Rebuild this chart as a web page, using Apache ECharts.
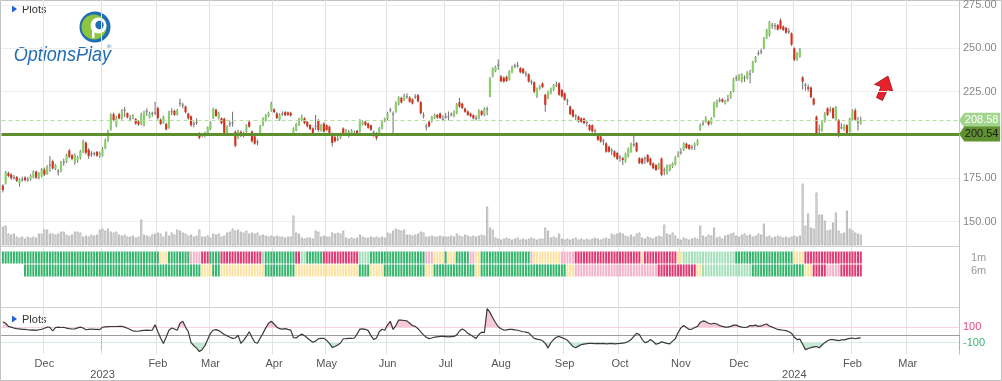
<!DOCTYPE html>
<html><head><meta charset="utf-8">
<script src="https://cdn.jsdelivr.net/npm/echarts@6.0.0/dist/echarts.min.js"></script>
<style>html,body{margin:0;padding:0;background:#fff}#c{width:1002px;height:381px}</style>
</head><body><div id="c"></div>
<script>
// ---------------- data ----------------
const firstDay = [2022, 10, 9];          // 2022-11-09 (month 0-based)
const categoryCount = 346;               // trading days shown on the axis (data + future)
const holidays = ['2022-11-24','2022-12-26','2023-01-02','2023-01-16','2023-02-20','2023-04-07','2023-05-29','2023-06-19','2023-07-04','2023-09-04','2023-11-23','2023-12-25','2024-01-01','2024-01-15','2024-02-19','2024-03-29'];
const monthNames = ['Jan','Feb','Mar','Apr','May','Jun','Jul','Aug','Sep','Oct','Nov','Dec'];
const priceTicks = { min: 150, max: 275, step: 25 };
const supportLevel = 200.54;
const lastPrice = 208.58;
const oscLevels = [100, -100];

// [open, close, low, high]
const candles = [
[170.8,168.3,166.9,171.6],[172.1,178.5,171.5,179.3],[178.0,176.4,175.6,178.9],[177.2,175.2,174.1,178.0],[175.4,175.8,174.3,176.9],
[175.8,173.6,172.9,176.4],[172.0,174.4,170.2,175.0],[174.2,174.6,173.0,176.0],[175.4,174.0,173.2,176.3],[174.1,174.5,173.1,175.8],
[174.4,176.6,173.6,177.4],[175.8,178.7,175.0,179.6],[178.9,175.4,174.6,179.5],[175.2,177.9,174.4,178.6],[176.2,180.3,175.6,181.0],
[180.1,177.2,176.3,181.2],[177.5,181.8,177.0,182.6],[182.5,183.0,178.8,187.8],[184.9,180.7,180.0,185.8],[180.5,182.6,179.8,183.2],
[178.8,179.3,176.6,180.4],[179.2,184.2,178.5,185.1],[184.3,184.6,182.2,186.4],[184.5,188.4,183.8,189.2],[191.0,187.4,186.6,192.0],
[188.3,186.2,185.5,189.0],[183.9,188.6,182.8,189.4],[185.4,187.2,184.0,188.0],[186.8,190.6,185.9,191.4],[190.4,196.4,189.5,197.3],
[195.6,189.8,188.8,196.3],[191.4,187.8,186.3,192.5],[188.6,189.4,187.4,190.6],[189.6,189.1,187.9,190.4],[190.3,188.1,187.4,190.8],
[188.4,189.6,186.8,190.5],[188.0,192.0,187.5,193.0],[192.2,197.0,191.8,198.0],[197.0,202.0,196.0,203.0],[203.0,211.5,202.5,212.5],
[212.0,208.6,207.8,213.0],[205.5,210.0,204.5,211.0],[212.0,209.6,209.0,212.8],[209.4,214.0,208.8,215.0],[214.0,214.6,210.4,216.2],
[212.6,210.2,209.6,213.0],[209.4,209.8,207.8,211.5],[209.6,211.5,209.0,212.0],[209.2,206.6,205.8,209.8],[207.8,206.1,205.3,208.6],
[206.2,211.8,205.6,213.0],[205.8,213.0,204.8,214.0],[214.0,213.2,211.0,215.4],[210.0,212.6,209.6,213.4],[212.2,212.8,210.6,213.5],
[212.6,213.2,211.5,219.2],[215.5,209.8,208.8,216.4],[208.8,206.4,205.8,209.6],[207.0,210.6,206.5,211.2],[206.4,203.2,202.6,207.0],
[204.2,213.0,203.6,214.0],[213.2,213.8,211.4,215.4],[214.0,211.6,211.0,214.6],[211.8,214.4,211.2,215.0],[218.0,218.6,216.4,221.0],
[217.6,217.2,215.4,218.6],[216.4,213.2,212.4,217.0],[212.4,209.6,208.8,212.8],[210.8,205.6,204.8,211.2],[206.4,206.8,204.4,207.8],
[207.6,207.2,205.8,209.6],[201.0,198.4,197.6,201.6],[199.8,200.4,198.8,201.0],[199.6,201.4,198.6,202.0],[201.0,204.6,200.4,205.0],
[203.4,207.2,202.8,208.0],[209.8,215.0,209.2,215.8],[214.6,211.0,210.4,215.2],[209.6,212.8,209.0,213.4],[209.6,206.8,206.2,210.2],
[209.4,201.2,200.4,210.0],[201.0,204.8,199.6,205.6],[206.0,206.6,204.6,208.4],[207.0,207.4,204.8,213.4],[201.8,193.8,193.0,202.6],
[198.4,202.4,197.6,203.0],[201.8,199.6,198.8,202.6],[199.4,201.2,198.6,202.0],[201.8,205.6,201.0,206.2],[207.6,204.8,204.2,208.2],
[202.0,196.4,195.6,202.6],[199.2,195.0,194.4,199.8],[196.2,195.8,194.0,197.4],[201.0,205.2,200.4,205.8],[205.6,209.6,205.0,210.2],
[208.4,211.4,207.8,212.0],[210.8,212.6,210.2,213.4],[214.0,218.2,213.4,219.2],[214.8,213.2,212.6,215.4],[212.4,209.8,209.2,213.2],
[208.8,211.8,208.2,212.6],[212.2,212.6,211.0,213.6],[213.2,211.4,210.8,213.8],[213.0,211.6,211.0,213.6],[212.8,211.2,210.6,213.4],
[200.2,203.6,199.8,204.4],[202.8,206.4,202.2,207.0],[205.8,209.4,205.2,210.0],[208.6,210.6,208.0,211.8],[209.6,206.8,206.2,210.2],
[207.6,205.0,204.4,208.2],[205.8,203.4,202.8,206.4],[203.8,201.2,200.6,204.4],[205.0,205.4,203.0,211.6],[208.6,202.8,202.0,209.2],
[202.6,205.8,202.0,206.4],[206.6,202.0,201.4,207.4],[205.6,203.0,202.4,206.2],[204.8,201.2,200.6,205.4],[200.8,195.4,193.4,201.4],
[198.8,196.4,195.6,199.6],[197.2,197.8,196.6,200.2],[198.2,200.8,197.6,201.4],[203.8,201.2,200.6,204.4],[200.0,202.6,199.4,203.4],
[201.0,201.4,198.6,203.0],[200.2,202.8,199.6,203.4],[200.4,200.8,199.4,202.6],[202.4,200.6,200.0,203.0],[202.0,208.6,201.4,209.2],
[206.2,207.6,205.6,208.4],[207.6,205.8,205.2,208.2],[206.6,204.2,203.6,207.2],[205.6,203.0,202.4,206.0],[201.8,201.2,199.0,202.6],
[201.0,198.2,197.0,201.6],[201.0,204.0,200.4,204.6],[203.8,207.6,203.2,208.2],[208.0,209.4,207.4,210.0],[209.2,212.6,208.6,213.4],
[214.0,214.6,213.0,215.8],[212.4,211.6,200.8,213.6],[213.4,218.8,212.8,219.4],[217.6,221.8,217.0,222.4],[221.4,218.8,218.2,222.0],
[220.2,223.0,219.6,223.8],[222.2,222.6,220.8,224.0],[221.6,219.2,218.6,222.4],[220.6,218.2,217.6,221.2],[221.8,222.4,220.8,223.6],
[223.0,219.4,218.8,223.6],[219.0,212.6,211.8,219.6],[211.6,211.0,209.6,213.0],[204.4,205.2,202.6,206.6],[207.6,205.0,204.4,208.2],
[207.8,210.4,207.2,211.0],[209.8,211.6,209.2,212.4],[211.6,210.0,209.4,212.2],[212.4,209.8,209.2,213.0],[209.4,209.0,208.0,211.4],
[210.2,210.8,209.4,212.6],[210.8,210.4,208.4,213.6],[211.6,212.2,210.8,213.0],[210.8,213.4,210.2,214.2],[212.6,217.8,212.0,218.4],
[219.0,216.4,215.8,221.4],[218.0,215.6,215.0,218.6],[215.2,213.4,212.8,215.8],[213.6,211.6,211.0,214.2],[212.4,210.8,210.2,213.0],
[211.4,209.6,209.0,212.0],[210.0,209.6,208.4,211.4],[209.6,214.2,209.0,214.8],[213.8,211.6,211.0,214.4],[211.4,215.4,210.8,216.0],
[214.6,215.2,211.4,216.4],[222.2,232.6,221.8,233.4],[233.8,238.4,233.2,239.0],[236.8,239.4,236.2,240.0],[240.0,240.6,237.6,243.6],
[233.8,231.0,230.4,234.6],[233.0,230.8,230.2,233.8],[233.6,231.2,230.6,234.2],[232.0,236.8,231.4,237.4],[236.2,239.2,235.6,240.0],
[239.6,240.2,238.4,241.2],[240.4,240.0,238.8,242.2],[238.6,236.2,235.6,239.2],[238.2,235.8,235.2,238.8],[235.8,235.2,233.6,236.8],
[235.0,230.8,230.2,235.6],[231.0,230.6,229.0,232.0],[230.4,225.0,224.0,231.0],[222.0,226.8,221.4,227.4],[226.6,228.0,226.0,228.8],
[229.8,227.6,227.0,230.4],[223.2,217.4,213.4,223.8],[221.2,225.0,220.6,225.6],[224.0,226.8,223.4,227.4],[226.0,228.8,225.4,229.4],
[228.4,229.0,227.6,230.8],[229.8,223.2,222.6,230.4],[226.0,222.2,221.6,226.6],[224.0,220.4,219.8,224.6],[220.2,219.6,217.2,221.0],
[216.4,212.0,211.4,217.0],[214.4,210.6,210.0,215.0],[211.4,210.8,208.6,212.0],[210.6,207.8,207.2,211.2],[209.6,207.6,207.0,210.2],
[209.4,206.8,206.2,210.0],[207.6,207.0,204.8,208.4],[205.8,202.8,202.2,206.4],[205.6,202.0,201.4,206.2],[202.8,202.2,199.4,203.6],
[200.0,197.2,196.6,200.6],[199.2,196.2,195.6,199.8],[197.0,196.4,194.2,197.8],[195.2,190.4,189.8,195.8],[193.2,190.4,189.8,193.8],
[191.4,190.6,188.4,192.4],[190.6,187.6,187.0,191.2],[189.6,186.2,185.6,190.2],[187.6,186.8,184.6,188.4],[186.6,185.6,182.6,187.4],
[184.6,189.2,184.0,189.8],[187.6,192.2,187.0,192.8],[190.4,195.0,189.8,195.6],[194.2,194.8,193.2,200.2],[195.4,190.6,190.0,196.0],
[186.6,183.8,183.2,187.2],[186.4,183.6,183.0,187.0],[186.8,186.2,183.4,187.6],[188.4,184.6,184.0,189.0],[186.4,182.8,182.2,187.0],
[183.6,180.8,180.2,184.2],[182.6,179.8,179.2,183.2],[180.6,183.4,180.0,184.0],[186.4,177.0,176.2,187.0],[180.0,179.4,176.8,181.2],
[177.8,182.4,177.2,183.0],[179.6,182.6,179.0,183.2],[181.6,183.6,181.0,184.2],[183.0,187.2,182.4,187.8],[187.6,188.8,187.0,190.6],
[189.6,190.4,188.6,192.4],[191.4,195.2,190.8,195.8],[195.0,192.6,192.0,195.6],[194.2,192.0,191.4,194.8],[192.6,193.2,191.4,194.4],
[193.6,194.6,191.4,195.6],[194.4,197.0,193.8,197.6],[203.0,206.0,202.4,206.6],[206.2,206.8,205.4,208.6],[207.6,209.8,207.0,210.8],
[207.8,206.0,205.4,208.4],[206.6,209.6,206.0,210.2],[210.6,218.4,210.0,219.2],[216.4,219.8,215.8,220.4],[219.6,220.4,218.8,221.6],
[220.6,219.2,218.6,221.2],[218.2,219.8,217.6,220.4],[220.0,220.8,219.0,223.2],[221.4,224.8,220.8,225.4],[225.2,232.4,224.6,233.0],
[232.4,233.2,231.0,234.4],[231.8,234.2,231.2,235.2],[230.8,235.0,230.2,235.6],[233.4,233.0,230.6,234.4],[232.6,236.0,232.0,236.8],
[235.0,235.6,229.8,237.6],[236.4,242.2,235.8,242.8],[242.2,245.0,241.6,245.6],[246.8,247.4,245.8,248.8],[247.8,248.4,246.6,249.8],
[250.0,256.0,249.4,256.6],[256.0,260.6,255.4,261.2],[257.6,265.2,256.8,265.8],[262.8,263.6,261.2,264.8],[263.4,262.8,260.8,264.6],
[263.4,260.8,260.2,264.0],[266.2,261.4,260.8,267.2],[262.6,260.6,260.0,263.2],[261.8,259.0,258.4,262.4],[259.4,260.0,258.2,261.6],
[258.6,252.2,251.4,259.2],[250.0,243.4,242.6,250.6],[243.6,247.2,242.8,247.8],[245.2,249.6,244.6,250.2],[233.2,230.8,226.2,234.0],
[229.0,228.2,225.6,230.0],[227.6,226.6,225.0,229.2],[227.4,221.8,221.2,228.0],[221.0,217.6,217.0,221.6],[210.6,200.4,199.4,211.2],
[203.6,203.0,201.2,206.0],[202.4,207.6,201.8,208.2],[207.8,212.6,207.2,213.2],[215.4,211.6,211.0,216.0],[214.0,214.6,213.0,216.4],
[215.4,209.8,209.2,216.0],[208.8,216.2,208.2,216.8],[208.6,199.4,198.8,209.2],[204.0,204.6,203.2,206.8],[203.0,205.6,202.4,206.2],
[205.6,200.2,199.6,206.2],[202.0,209.4,201.4,210.0],[208.8,214.2,208.2,214.8],[214.2,208.8,208.2,215.4],[207.0,207.6,202.6,210.4],
[206.6,208.6,206.0,210.6]
];

const volumes = [
19,20,12,11,12,9,8,9,7,9,8,9,8,12,
12,16,16,12,12,11,12,14,14,11,10,11,14,14,13,9,10,9,11,10,11,
16,17,15,17,14,13,14,11,10,11,9,9,10,8,9,26,11,10,9,11,
12,13,12,9,14,10,13,11,16,15,13,12,10,11,9,10,16,9,9,10,8,
12,11,12,9,10,13,14,17,15,16,14,13,15,12,13,12,13,10,11,10,9,10,
9,10,9,9,8,9,9,30,13,12,8,7,8,8,7,15,14,9,10,9,9,
13,12,13,12,15,8,7,8,7,8,11,9,8,8,9,8,9,8,9,8,
13,12,15,17,16,15,16,11,11,10,11,12,14,13,9,9,10,9,9,10,9,
9,9,10,9,12,10,9,11,10,9,10,9,10,11,10,39,18,16,8,7,6,7,8,
7,6,7,8,6,7,6,7,8,7,6,7,7,18,15,8,9,8,12,
7,6,7,6,7,8,6,7,6,7,6,7,8,7,6,7,8,7,12,11,12,13,12,
10,9,11,9,12,13,8,7,9,8,7,9,10,9,21,12,11,13,10,
7,6,8,7,6,7,8,7,20,10,9,11,10,18,8,9,7,10,11,12,13,
10,9,11,12,10,11,9,10,12,11,22,9,10,8,9,10,9,8,9,8,
9,10,9,10,62,20,32,18,17,53,31,31,25,15,16,23,33,15,12,13,35,17,15,13,12,11
];

const cci = [
170,150,110,100,88,80,78,72,70,66,62,64,58,66,
72,85,100,98,50,95,100,95,98,88,80,76,78,90,100,88,66,72,76,72,70,
68,98,104,106,108,108,108,110,111,100,86,70,50,48,47,55,58,60,58,62,
130,40,-40,-110,-30,60,88,75,60,150,175,100,40,-100,-140,-170,-215,-190,-140,
-60,20,60,68,55,30,5,-10,-30,-45,-40,-5,-110,-70,-20,40,-30,-95,-108,-40,20,90,150,
175,140,100,80,75,80,70,62,-35,-40,-10,10,-10,-40,-70,-95,-80,-50,-45,
-45,-70,-110,-160,-150,-130,-105,-50,-48,-45,-45,-40,10,75,78,72,55,-10,-60,-40,40,72,
60,130,175,70,120,190,190,185,180,150,120,110,80,40,0,-30,-48,-40,-30,-25,-20,
-20,-22,-25,-22,-20,0,50,77,55,20,0,-25,-45,5,35,30,340,290,220,160,
105,80,62,65,70,72,65,60,50,40,35,25,-10,-45,-55,-60,-75,-110,-170,-100,-60,-30,-20,
-35,-50,-70,-110,-150,-165,-145,-125,-118,-112,-110,-110,-112,-110,-112,-110,-115,-112,-110,-115,
-112,-110,-105,-100,-85,-60,-20,20,5,-60,-100,-90,-60,-85,-120,-110,-90,-100,-110,-115,-80,-50,
30,90,120,95,70,75,95,110,160,180,170,150,140,150,140,120,110,100,100,110,125,
125,110,100,95,100,120,115,125,110,115,130,140,115,100,85,70,65,60,55,40,
20,-30,-60,-55,-120,-190,-175,-165,-155,-150,-165,-130,-100,-75,-60,-62,-68,-75,-65,-65,-55,-45,-40,-50,-42,-38
];

// strip runs: [state, number of days]; G strong up, g up, Y neutral, p down, P strong down, - none
const strip1mRuns = [['G',57],['Y',3],['G',8],['p',4],['P',3],['G',4],['P',15],['g',1],['G',11],['P',2],['g',2],['G',6],['P',13],['g',4],['G',20],['p',3],['Y',4],['G',1],['Y',3],['G',5],['p',2],['Y',2],['G',18],['p',1],['Y',10],['p',5],['P',24],['Y',1],['P',12],['Y',2],['g',19],['G',21],['Y',4],['P',21]];
const strip6mRuns = [['-',8],['G',64],['Y',4],['G',3],['Y',16],['G',11],['Y',23],['G',4],['Y',5],['G',15],['Y',3],['G',15],['Y',2],['G',31],['Y',3],['p',30],['P',14],['Y',2],['g',18],['G',19],['Y',3],['P',5],['p',5],['P',8]];
const stripRows = ['6m', '1m'];

// ---------------- build ----------------
const stateColors = { G: '#33b36b', g: '#a4dfba', Y: '#fde3a2', p: '#f6b2c8', P: '#e03872' };
const stateKeys = ['G','g','Y','p','P'];

function tradingDays() {
  const out = [];
  let t = Date.UTC(firstDay[0], firstDay[1], firstDay[2]);
  while (out.length < categoryCount) {
    const d = new Date(t);
    const wd = d.getUTCDay();
    const s = d.toISOString().slice(0, 10);
    if (wd !== 0 && wd !== 6 && holidays.indexOf(s) < 0) out.push(s);
    t += 86400000;
  }
  return out;
}
const dates = tradingDays();
const monthStart = dates.map((d, i) => i > 0 && d.slice(0, 7) !== dates[i - 1].slice(0, 7));
const yearStart = dates.map((d, i) => monthStart[i] && d.slice(5, 7) === '01');

function expandRuns(runs) {
  const out = [];
  runs.forEach(([k, n]) => { for (let j = 0; j < n; j++) out.push(k); });
  return out;
}
const s1m = expandRuns(strip1mRuns);
const s6m = expandRuns(strip6mRuns);
const stripData = [];
s6m.forEach((k, i) => { if (k !== '-') stripData.push([i, 0, stateKeys.indexOf(k)]); });
s1m.forEach((k, i) => { if (k !== '-') stripData.push([i, 1, stateKeys.indexOf(k)]); });

const FONT = 'Liberation Sans, Arial, sans-serif';
const L = 1.5, R = 43;
const gridBase = { left: L, right: R, outerBoundsMode: 'none', containLabel: false };
const hiddenX = (gi) => ({ type: 'category', gridIndex: gi, data: dates, boundaryGap: true, show: false });

const chart = echarts.init(document.getElementById('c'), null, { renderer: 'canvas' });
const option = {
  animation: false,
  backgroundColor: '#ffffff',
  textStyle: { fontFamily: FONT },
  grid: [
    Object.assign({ top: 0, height: 354.3 }, gridBase),      // 0 background
    Object.assign({ top: 5, height: 216.67 }, gridBase),     // 1 price
    Object.assign({ top: 145.5, height: 100 }, gridBase),    // 2 volume
    Object.assign({ top: 251, height: 26 }, gridBase),       // 3 strips
    Object.assign({ top: 307.7, height: 46.6 }, gridBase)    // 4 oscillator
  ],
  xAxis: [
    { type: 'category', gridIndex: 0, data: dates, boundaryGap: true,
      axisLine: { show: false }, axisTick: { show: false }, axisLabel: { show: false },
      splitLine: { show: true, interval: (i) => monthStart[i], lineStyle: { color: '#e2e2e2', width: 1 } } },
    hiddenX(1), hiddenX(2), hiddenX(3),
    { type: 'category', gridIndex: 4, data: dates, boundaryGap: true,
      axisLine: { show: true, lineStyle: { color: '#9a9a9a', width: 1 } },
      axisTick: { show: true, interval: (i) => yearStart[i], length: 16, lineStyle: { color: '#999', type: 'dotted', width: 1 } },
      axisLabel: { show: true, interval: (i) => monthStart[i], margin: 4, color: '#555', fontSize: 11, fontFamily: FONT,
        formatter: (v) => { const m = +v.slice(5, 7); return m === 1 ? '{yr|' + v.slice(0, 4) + '}' : monthNames[m - 1]; },
        rich: { yr: { padding: [11, 0, 0, 0], color: '#555', fontSize: 11, fontFamily: FONT } } },
      splitLine: { show: false } }
  ],
  yAxis: [
    { type: 'value', gridIndex: 0, min: 0, max: 1, position: 'right',
      axisLine: { show: true, lineStyle: { color: '#c4c4c4' } }, axisTick: { show: false }, axisLabel: { show: false }, splitLine: { show: false } },
    { type: 'value', gridIndex: 1, min: priceTicks.min, max: priceTicks.max, interval: priceTicks.step, position: 'right',
      axisLine: { show: false }, axisTick: { show: false },
      axisLabel: { margin: 4, color: '#888', fontSize: 11, fontFamily: FONT, formatter: (v) => v.toFixed(2) },
      splitLine: { show: true, lineStyle: { color: '#eeeeee' } } },
    { type: 'value', gridIndex: 2, min: 0, max: 100, show: false },
    { type: 'category', gridIndex: 3, data: stripRows, position: 'right',
      axisLine: { show: false }, axisTick: { show: false }, splitLine: { show: false },
      axisLabel: { interval: 0, hideOverlap: false, margin: 12, color: '#999', fontSize: 11, fontFamily: FONT } },
    { type: 'value', gridIndex: 4, min: -250, max: 350, interval: 50, position: 'right',
      axisLine: { show: false }, axisTick: { show: false }, splitLine: { show: false },
      axisLabel: { margin: 4, fontSize: 11, fontFamily: FONT,
        formatter: (v) => (oscLevels.indexOf(v) >= 0 ? String(v) : ''),
        color: (v) => (+v > 0 ? '#e3497e' : '#39b46f') } }
  ],
  series: [
    // volume
    { type: 'bar', xAxisIndex: 2, yAxisIndex: 2, data: volumes, barWidth: 2, silent: true,
      itemStyle: { color: '#fbfbfb', borderColor: '#a8a8a8', borderWidth: 0.8 } },
    // level lines & tags
    { type: 'line', xAxisIndex: 1, yAxisIndex: 1, data: candles.map(r => r[1]), symbol: 'none', silent: true,
      lineStyle: { opacity: 0 }, z: 5,
      markLine: { silent: true, symbol: 'none', label: { show: false }, animation: false,
        data: [
          { yAxis: lastPrice, lineStyle: { color: '#b3df9c', width: 1, type: [4, 3] } },
          { yAxis: supportLevel, lineStyle: { color: '#5d8f2e', width: 3, type: 'solid' } }
        ] },
      markPoint: { silent: true, animation: false,
        data: [
          { coord: [dates[categoryCount - 1], lastPrice], symbol: 'path://M0,5 L5,0 L40,0 L40,10 L5,10 Z', symbolSize: [41, 15], symbolOffset: [22, 0],
            itemStyle: { color: '#a2d58c' },
            label: { show: true, position: 'inside', offset: [2, 0], formatter: lastPrice.toFixed(2), color: '#fff', fontSize: 11, fontFamily: FONT } },
          { coord: [dates[categoryCount - 1], supportLevel], symbol: 'path://M0,5 L5,0 L40,0 L40,10 L5,10 Z', symbolSize: [41, 15], symbolOffset: [22, 0],
            itemStyle: { color: '#5f9131' },
            label: { show: true, position: 'inside', offset: [2, 0], formatter: supportLevel.toFixed(2), color: '#1c1c1c', fontSize: 11, fontFamily: FONT } }
        ] } },
    // candles
    { type: 'custom', xAxisIndex: 1, yAxisIndex: 1, z: 4, silent: true, clip: false,
      data: candles.map((r, i) => [i, r[0], r[1], r[2], r[3]]),
      encode: { x: 0, y: [1, 2, 3, 4] },
      renderItem: (params, api) => {
        const i = api.value(0), o = api.value(1), c = api.value(2), l = api.value(3), h = api.value(4);
        const pH = api.coord([i, h]), pL = api.coord([i, l]), pO = api.coord([i, o]), pC = api.coord([i, c]);
        const bw = api.size([1, 0])[0] * 0.78;
        const flat = Math.abs(c - o) < 0.9;
        const col = flat ? '#8a8a8a' : (c > o ? '#8cce6b' : '#d3321c');
        const top = Math.min(pO[1], pC[1]);
        const hgt = Math.max(Math.abs(pO[1] - pC[1]), 1.3);
        return { type: 'group', children: [
          { type: 'line', shape: { x1: pH[0], y1: pH[1], x2: pL[0], y2: pL[1] }, style: { stroke: '#6e6e6e', lineWidth: 1 } },
          { type: 'rect', shape: { x: pO[0] - bw / 2, y: top, width: bw, height: hgt }, style: { fill: col } }
        ] };
      } },
    // strips
    { type: 'custom', xAxisIndex: 3, yAxisIndex: 3, silent: true, data: stripData,
      encode: { x: 0, y: 1 },
      renderItem: (params, api) => {
        const p = api.coord([api.value(0), api.value(1)]);
        const sz = api.size([1, 1]);
        return { type: 'rect', shape: { x: p[0] - sz[0] * 0.36, y: p[1] - sz[1] / 2 + 0.5, width: sz[0] * 0.72, height: sz[1] - 1 },
          style: { fill: stateColors[stateKeys[api.value(2)]] } };
      } },
    // oscillator fills
    { type: 'line', xAxisIndex: 4, yAxisIndex: 4, stack: 'up', stackStrategy: 'all', data: cci.map(() => oscLevels[0]), symbol: 'none', silent: true, lineStyle: { opacity: 0 } },
    { type: 'line', xAxisIndex: 4, yAxisIndex: 4, stack: 'up', stackStrategy: 'all', data: cci.map(v => Math.max(v - oscLevels[0], 0)), symbol: 'none', silent: true,
      lineStyle: { opacity: 0 }, areaStyle: { color: 'rgba(231,118,160,0.55)' } },
    { type: 'line', xAxisIndex: 4, yAxisIndex: 4, stack: 'dn', stackStrategy: 'all', data: cci.map(() => oscLevels[1]), symbol: 'none', silent: true, lineStyle: { opacity: 0 } },
    { type: 'line', xAxisIndex: 4, yAxisIndex: 4, stack: 'dn', stackStrategy: 'all', data: cci.map(v => Math.min(v - oscLevels[1], 0)), symbol: 'none', silent: true,
      lineStyle: { opacity: 0 }, areaStyle: { color: 'rgba(74,190,130,0.45)' } },
    // oscillator line
    { type: 'line', xAxisIndex: 4, yAxisIndex: 4, data: cci, symbol: 'none', silent: true, z: 6,
      lineStyle: { color: '#3a3a3a', width: 1.2 },
      markLine: { silent: true, symbol: 'none', label: { show: false }, animation: false,
        data: [
          { yAxis: 0, lineStyle: { color: '#9c9c9c', width: 1, type: 'solid' } },
          { yAxis: oscLevels[0], lineStyle: { color: '#f5d2de', width: 1, type: 'solid' } },
          { yAxis: oscLevels[1], lineStyle: { color: '#d2eedf', width: 1, type: 'solid' } }
        ] } }
  ],
  graphic: [
    { type: 'line', shape: { x1: 0, y1: 246.5, x2: 959, y2: 246.5 }, style: { stroke: '#cfcfcf', lineWidth: 1 }, silent: true },
    { type: 'line', shape: { x1: 0, y1: 307.5, x2: 959, y2: 307.5 }, style: { stroke: '#cfcfcf', lineWidth: 1 }, silent: true },
    { type: 'rect', shape: { x: 0.5, y: 0.5, width: 1001, height: 380 }, style: { fill: 'none', stroke: '#c2c2c2', lineWidth: 1 }, silent: true },
    { type: 'polygon', shape: { points: [[12, 5.5], [17, 9], [12, 12.5]] }, style: { fill: '#1f5fd6' }, silent: true },
    { type: 'text', x: 22, y: 9.5, style: { text: 'Plots', fill: '#333', font: '11px ' + FONT, verticalAlign: 'middle', textVerticalAlign: 'middle' }, silent: true },
    { type: 'polygon', shape: { points: [[12, 315.5], [17, 319], [12, 322.5]] }, style: { fill: '#1f5fd6' }, silent: true },
    { type: 'text', x: 22, y: 319.5, style: { text: 'Plots', fill: '#333', font: '11px ' + FONT, verticalAlign: 'middle', textVerticalAlign: 'middle' }, silent: true },
    // logo
    { type: 'circle', shape: { cx: 95, cy: 27, r: 15.5 }, style: { fill: '#1f6db4' }, silent: true },
    { type: 'circle', shape: { cx: 94, cy: 27, r: 12.5 }, style: { fill: '#8dc540' }, silent: true },
    { type: 'circle', shape: { cx: 98.5, cy: 25.5, r: 8 }, style: { fill: '#ffffff' }, silent: true },
    { type: 'circle', shape: { cx: 99.5, cy: 25, r: 4.2 }, style: { fill: '#1f6db4' }, silent: true },
    { type: 'rect', shape: { x: 92, y: 24, width: 2.5, height: 14 }, style: { fill: '#ffffff' }, silent: true },
    { type: 'text', x: 12, y: 55, scaleX: 0.86, originX: 12, originY: 55,
      style: { text: 'OptionsPlay', fill: '#1f6db4', font: 'italic 21px Liberation Sans, Arial, sans-serif', verticalAlign: 'middle', textVerticalAlign: 'middle' }, silent: true },
    { type: 'text', x: 107, y: 47, style: { text: '®', fill: '#1f6db4', font: '6px ' + FONT, verticalAlign: 'middle', textVerticalAlign: 'middle' }, silent: true },
    // red arrow
    { type: 'polygon', shape: { points: [[888, 76], [893, 92], [887.5, 89.5], [882.5, 100.5], [876.5, 97.5], [881, 86.5], [874.5, 84.5]] },
      style: { fill: '#e8212b', stroke: '#8a1515', lineWidth: 0.8 }, silent: true }
  ]
};
chart.setOption(option);
</script>
</body></html>
